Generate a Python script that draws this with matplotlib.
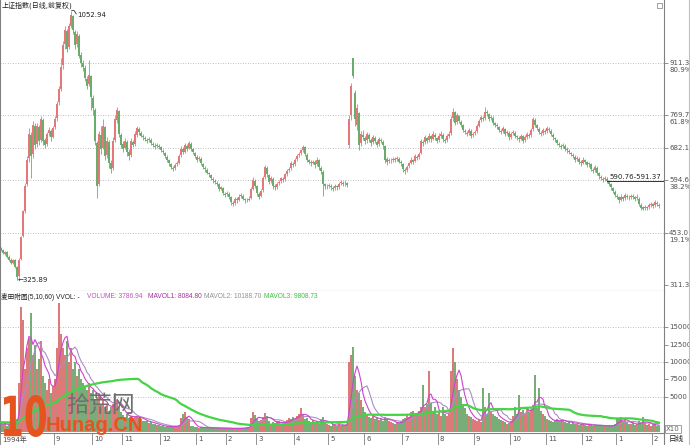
import numpy as np
import pandas as pd
import matplotlib
matplotlib.use("Agg")
import matplotlib.pyplot as plt
from matplotlib.textpath import TextPath
from matplotlib.patches import PathPatch, Rectangle
from matplotlib.font_manager import FontProperties
from matplotlib.transforms import Affine2D, blended_transform_factory
from matplotlib.lines import Line2D

plt.rcParams['font.family'] = ['DejaVu Sans', 'Noto Sans CJK SC']

# ---------------- data ----------------
opens = [
    410, 405, 396, 400, 388, 380, 370, 378, 360,
    335, 382, 445, 512, 585,
    655, 718, 665, 742,
    692, 738, 702, 758, 702, 692, 722, 728, 712, 738,
    762, 805, 842,
    905, 962, 998,
    955, 1012, 1038,
    995, 962,
    985, 932, 912,
    898, 868,
    855, 875,
    818, 785, 695,
    585, 718, 682, 738, 662,
    698, 642,
    628, 702, 758,
    782, 718, 692, 682, 698, 672, 662, 698,
    692, 718, 733,
    723, 713, 708, 703, 702, 703, 693, 688, 687, 688, 683, 673,
    668, 658, 648, 638, 628, 627, 637,
    642, 662, 678, 672, 688, 682, 693,
    678, 668, 658, 652, 653, 638, 628, 623, 613, 608, 598,
    593, 588, 583, 572, 573, 558, 557, 558,
    548, 533,
    532, 543, 542, 552, 553, 543, 542, 542,
    547, 572, 593,
    578, 558, 552,
    567, 602, 628,
    608, 592, 598, 578, 577, 587, 592, 598,
    597, 612, 622, 627, 638, 637, 652, 662, 667, 677,
    683, 663, 648, 643, 642, 643, 637, 648,
    628, 618, 583,
    578, 580, 580, 573, 574, 578, 577, 587, 588, 586,
    586,
    690, 770, 925, 830, 745, 775, 695,
    718, 708, 702, 718, 703, 697, 708, 698, 692, 703, 698,
    688, 652,
    647, 648, 650, 652, 651, 653, 643,
    638, 623, 622,
    632, 642, 648, 647, 658, 657,
    668, 698, 697, 708, 702, 713, 707, 718, 708, 702, 713, 718, 703, 702, 713,
    722, 762, 778,
    752, 768, 753,
    743, 728, 723, 722, 728, 717, 722,
    727, 742, 757, 763, 762, 778,
    773, 762, 763, 748, 743,
    738, 728, 727, 733, 722, 723, 712, 722, 723, 713, 708, 707, 713, 702, 712, 718,
    717, 732, 758,
    743, 733, 723, 722, 728, 727, 733, 728,
    718, 708, 703, 693, 688, 687, 688, 678, 673,
    668, 663, 658, 652, 653, 643, 642, 648, 643, 637, 638, 623, 622, 628,
    613, 603, 598, 597, 598,
    590, 583, 573, 563, 553,
    548, 542, 548, 547, 553, 549, 549, 552, 548, 547,
    545, 528, 522, 519, 522,
    521, 528, 530, 527, 533, 528]

highs = [
    414, 408, 404, 403, 392, 384, 382, 381, 363,
    385, 445, 515, 588, 660,
    735, 725, 755, 750,
    750, 745, 768, 762, 708, 725, 738, 732, 742, 768,
    808, 850, 925,
    970, 1010, 1003,
    1020, 1052.94, 1042,
    1000, 998,
    990, 940, 920,
    905, 875,
    919, 880,
    825, 790, 700,
    728, 740, 760, 742, 712,
    702, 648,
    710, 770, 792,
    785, 722, 700, 708, 702, 678, 708, 704,
    728, 740, 738,
    728, 720, 714, 708, 710, 708, 698, 694, 696, 693, 686, 678,
    672, 662, 652, 642, 632, 640, 646,
    665, 686, 684, 696, 693, 700, 698,
    682, 672, 662, 660, 657, 642, 633, 627, 618, 612, 603,
    598, 593, 587, 580, 577, 563, 566, 562,
    551, 538,
    550, 548, 556, 560, 557, 547, 546, 552,
    576, 603, 598,
    582, 562, 570,
    606, 636, 632,
    612, 605, 602, 583, 590, 596, 604, 603,
    615, 625, 631, 646, 643, 655, 666, 671, 680, 690,
    687, 668, 653, 648, 650, 648, 656, 652,
    632, 622, 588,
    584, 588, 585, 579, 584, 582, 590, 595, 593, 594,
    590,
    771, 857, 926, 838, 800, 780, 728,
    730, 715, 726, 722, 708, 716, 713, 702, 710, 708, 702,
    690, 656,
    655, 654, 657, 656, 660, 657, 648,
    641, 627, 636,
    645, 656, 653, 666, 663, 670,
    706, 704, 716, 712, 722, 718, 727, 723, 712, 721, 727, 722, 708, 720, 728,
    768, 789, 782,
    776, 772, 758,
    747, 733, 728, 736, 732, 726, 731,
    746, 760, 771, 768, 792, 784,
    777, 770, 767, 752, 748,
    742, 733, 740, 736, 730, 727, 726, 730, 727, 718, 713, 720, 717, 716, 726, 723,
    736, 766, 762,
    747, 738, 728, 736, 733, 740, 738, 732,
    722, 712, 707, 698, 693, 695, 692, 683, 678,
    672, 668, 662, 660, 657, 648, 656, 653, 647, 645, 642, 628, 636, 632,
    617, 608, 602, 605, 603,
    594, 587, 577, 567, 558,
    552, 556, 553, 561, 558, 554, 558, 557, 552, 556,
    548, 532, 526, 527, 526,
    534, 536, 534, 541, 537, 532]

lows = [
    402, 395, 393, 385, 377, 369, 367, 357, 325.89,
    332, 378, 440, 505, 578,
    645, 600, 655, 680,
    685, 690, 698, 690, 682, 688, 715, 700, 708, 732,
    755, 798, 835,
    895, 950, 940,
    948, 1005, 990,
    950, 955,
    925, 900, 890,
    862, 840,
    850, 785,
    770, 690, 546,
    580, 665, 678, 650, 655,
    628, 615,
    622, 698, 750,
    712, 682, 672, 678, 660, 650, 658, 684,
    688, 712, 718,
    710, 704, 700, 694, 697, 690, 684, 680, 682, 678, 670, 664,
    654, 645, 634, 624, 620, 622, 632,
    638, 658, 664, 668, 674, 678, 674,
    664, 655, 644, 646, 635, 624, 618, 610, 604, 594, 588,
    584, 578, 564, 567, 554, 550, 552, 543,
    528, 524,
    528, 534, 538, 547, 540, 534, 535, 537,
    543, 568, 574,
    553, 545, 548,
    562, 598, 604,
    584, 586, 572, 568, 572, 582, 588, 589,
    593, 607, 616, 622, 629, 632, 647, 656, 662, 672,
    660, 644, 639, 634, 637, 628, 632, 622,
    612, 552, 572,
    571, 574, 569, 566, 569, 569, 572, 582, 579, 580,
    576,
    682, 757, 870, 740, 730, 675, 688,
    702, 692, 696, 698, 686, 692, 694, 684, 688, 694, 680,
    642, 636,
    641, 642, 645, 644, 646, 640, 633,
    616, 612, 617,
    627, 638, 639, 643, 649, 652,
    664, 688, 692, 694, 697, 699, 702, 704, 694, 697, 708, 699, 694, 697, 708,
    718, 755, 743,
    747, 749, 738,
    724, 719, 713, 717, 709, 712, 716,
    722, 737, 752, 754, 758, 768,
    754, 756, 744, 739, 734,
    724, 719, 722, 714, 716, 704, 707, 717, 709, 704, 698, 702, 694, 697, 707, 709,
    712, 728, 739,
    729, 719, 713, 716, 719, 721, 724, 713,
    704, 698, 689, 684, 679, 681, 674, 669, 664,
    659, 654, 644, 646, 639, 634, 637, 639, 629, 631, 619, 614, 617, 609,
    599, 594, 589, 591, 587,
    579, 569, 559, 549, 544,
    534, 537, 539, 542, 544, 542, 543, 544, 539, 541,
    524, 514, 513, 514, 514,
    516, 523, 519, 522, 524, 519]

closes = [
    405, 398, 400, 388, 380, 372, 378, 360, 333,
    380, 440, 510, 580, 650,
    720, 660, 745, 690,
    740, 700, 760, 700, 690, 720, 730, 710, 735, 760,
    800, 840, 900,
    960, 1000, 950,
    1010, 1040, 1000,
    960, 990,
    930, 910, 900,
    870, 850,
    880, 820,
    790, 700, 580,
    720, 680, 740, 660, 700,
    640, 625,
    700, 760, 785,
    720, 690, 680, 700, 670, 660, 700, 690,
    720, 735, 725,
    715, 710, 705, 700, 705, 695, 690, 685, 690, 685, 675, 670,
    660, 650, 640, 630, 625, 635, 640,
    660, 680, 670, 690, 680, 695, 680,
    670, 660, 650, 655, 640, 630, 625, 615, 610, 600, 595,
    590, 585, 570, 575, 560, 555, 560, 550,
    535, 530,
    545, 540, 550, 555, 545, 540, 540, 545,
    570, 595, 580,
    560, 550, 565,
    600, 630, 610,
    590, 600, 580, 575, 585, 590, 600, 595,
    610, 620, 625, 640, 635, 650, 660, 665, 675, 685,
    665, 650, 645, 640, 645, 635, 650, 630,
    620, 585, 580,
    578, 582, 575, 572, 578, 575, 585, 590, 585, 588,
    582,
    760, 850, 875, 760, 790, 690, 720,
    710, 700, 720, 705, 695, 710, 700, 690, 705, 700, 690,
    650, 645,
    650, 648, 652, 650, 655, 645, 640,
    625, 620, 630,
    640, 650, 645, 660, 655, 665,
    700, 695, 710, 700, 715, 705, 720, 710, 700, 715, 720, 705, 700, 715, 720,
    760, 780, 750,
    770, 755, 745,
    730, 725, 720, 730, 715, 720, 725,
    740, 755, 765, 760, 780, 775,
    760, 765, 750, 745, 740,
    730, 725, 735, 720, 725, 710, 720, 725, 715, 710, 705, 715, 700, 710, 720, 715,
    730, 760, 745,
    735, 725, 720, 730, 725, 735, 730, 720,
    710, 705, 695, 690, 685, 690, 680, 675, 670,
    665, 660, 650, 655, 645, 640, 650, 645, 635, 640, 625, 620, 630, 615,
    605, 600, 595, 600, 592,
    585, 575, 565, 555, 550,
    540, 550, 545, 555, 550, 548, 552, 550, 545, 550,
    530, 520, 518, 522, 520,
    528, 530, 525, 535, 530, 525]

volumes = [
    1200, 1000, 1400, 900, 1100, 1300, 1000, 1500, 1800, 7000,
    17800, 16000, 9000, 12000, 13500, 17000, 11000, 12500, 9000, 10500, 13000,
    8000, 7000, 6000, 7500, 5500, 6500, 7500,
    12000, 18400, 14000, 12000, 11000, 13000, 10000, 12000, 9000, 10000, 8000, 9000, 7500,
    7000, 6500, 6000, 7000, 5500, 6000, 4500, 5000, 5500, 4000, 4500, 3500, 4000, 3000, 3500,
    4000, 5500, 4500, 3500, 2800, 2400, 2200, 2500, 2000, 2300, 2000, 2200, 2300, 2000,
    1800, 1600, 1500, 1500, 1300, 1400, 1200, 1100, 1000, 950, 900,
    800, 700, 850, 750, 700, 800, 900, 850, 1000,
    2000, 2500, 2800, 2200, 1800,
    900, 800, 700, 650, 600, 700, 650, 550, 600, 550, 650, 600, 550, 500, 550,
    600, 550, 500, 500, 550, 500, 450, 550, 500, 500, 550, 600, 550, 650, 700,
    2000, 2800, 2400, 1800, 1500, 1700, 2200, 2700, 2300,
    1500, 1200, 1400, 1300, 1600, 1500, 1100, 1200, 1400, 1700, 2000, 1800, 2100, 1900, 2300, 2600,
    3400, 2400, 1800, 2000, 1600, 1400, 1700, 1300, 1600, 1200, 1800, 2100, 1400, 1200, 1000, 900, 1100,
    1000, 900, 1100, 800, 900, 1000, 1200,
    10000, 11000, 12100, 8000, 6000, 5500, 4500, 3500, 2800, 2500, 2200, 2000, 2300, 1800, 2000, 1700, 1800, 1500,
    2200, 2000, 1500, 1400, 1300, 1200, 1400, 1300, 1500, 1800, 2000, 2500, 2200, 2800, 3000, 2500, 2700, 3000, 3500,
    6700, 3500, 4000, 8700, 4200, 3000, 3500, 2600, 2800, 2300, 3500, 2600, 2300, 2500,
    8700, 12000, 10000, 7500, 6000, 5000, 4000, 3400, 2600, 2300, 2100, 1900, 1700, 1500, 1700, 1400,
    6300, 3500, 2600, 5500, 3000, 2600, 2300, 2100, 1900, 1700, 1500, 1400, 1200, 1300, 1500,
    2300, 3500, 2600, 5300, 2900, 3200, 2600, 3500, 2900, 3200, 3800, 8100, 3400, 6300, 3000, 2600, 2300, 1900, 1700, 1500, 1400,
    1700, 1900, 1600, 1500, 1700, 1400, 1300, 1500, 1200, 1300, 1100, 1200, 1000, 1100, 1300, 1000,
    900, 1100, 1000, 900, 950, 850, 900, 1000, 800, 900, 850, 800, 900, 1000, 1100,
    2000, 1800, 2100, 1500, 1700, 1400,
    1200, 1100, 1300, 1000, 1100, 1500, 1200, 2100, 1300, 1000, 1200, 900, 1000, 1100, 900, 800]

mavol3_seed = 1400  # level of the 60-day line at the left edge

price_levels = [911.3, 769.7, 682.1, 594.6, 453.0, 311.3]
price_pcts = ["80.9%", "61.8%", "", "38.2%", "19.1%", ""]
price_grid = [911.3, 769.7, 682.1, 594.6, 453.0]
vol_ticks = [15000, 12500, 10000, 7500, 5000]
vol_grid = [15000, 10000, 5000]

month_start = [0, 27, 46, 61, 80, 98, 113, 128, 147, 164, 182, 201, 219, 237, 255, 273, 291, 308, 326]
month_labels = ['1994年', '9', '10', '11', '12', '1', '2', '3', '4', '5', '6',
                '7', '8', '9', '10', '11', '12', '1', '2']

# ---------------- figure ----------------
W, H = 690, 445
fig = plt.figure(figsize=(W / 100, H / 100), dpi=100)
fig.patch.set_facecolor('white')

def fx(x):
    return x / W

def fy(y):
    return 1 - y / H

n = min(len(opens), len(highs), len(lows), len(closes), len(volumes))
o = np.array(opens[:n], float)
hi = np.array(highs[:n], float)
lo = np.array(lows[:n], float)
c = np.array(closes[:n], float)
vol = np.array(volumes[:n], float)
idx = np.arange(n)

RED = '#e47878'
GREEN = '#6aad6a'
up = c >= o
cols = np.where(up, RED, GREEN)
VRED = '#dc7a7a'
VGREEN = '#78ad78'
vcols = np.where(up, VRED, VGREEN)

ax_p = fig.add_axes([0, fy(291), fx(664), 291 / H])
ax_v = fig.add_axes([0, fy(433), fx(664), (433 - 291) / H])

GRID = '#a8a8a8'
SP = '#808080'
LAB = '#505050'
SMALL = ['Liberation Sans', 'Noto Sans CJK SC']

# ---- price panel ----
for lv in price_grid:
    ax_p.axhline(lv, color=GRID, lw=0.6, ls=(0, (1, 2)), zorder=0)
ax_p.vlines(idx, lo, hi, colors=cols, lw=0.6, zorder=2)
ax_p.bar(idx, np.maximum(np.abs(c - o), 1.2), bottom=np.minimum(o, c),
         width=0.6, color=cols, lw=0, zorder=2)
ax_p.set_xlim(-0.5, 331.5)
ax_p.set_ylim(295.0, 1081.6)
ax_p.set_xticks([])
ax_p.yaxis.tick_right()
ax_p.set_yticks(price_levels)
ax_p.set_yticklabels([])
ax_p.tick_params(axis='y', length=3, width=0.6, color=SP, direction='out')
for s in ['left', 'right', 'bottom']:
    ax_p.spines[s].set_color(SP)
    ax_p.spines[s].set_linewidth(0.8)
ax_p.spines['top'].set_visible(False)

tr_p = blended_transform_factory(ax_p.transAxes, ax_p.transData)
for lv, pct in zip(price_levels, price_pcts):
    ax_p.text(1 + 5 / 664, lv, f'{lv:.1f}', transform=tr_p, ha='left', va='center',
              fontsize=5, color=LAB, clip_on=False)
    if pct:
        ax_p.text(1 + 5 / 664, lv - 7 * 2.703, pct, transform=tr_p, ha='left', va='center',
                  fontsize=5, color=LAB, clip_on=False)

# annotations
i_max = int(np.argmax(hi))
i_min = int(np.argmin(lo))
ax_p.plot([i_max + 0.4, i_max + 1.6, i_max + 2.6], [hi[i_max], hi[i_max], hi[i_max] - 9],
          color='#333333', lw=0.6)
ax_p.text(i_max + 3.0, hi[i_max] - 11, f'{hi[i_max]:.2f}', fontsize=5, color='#222222',
          ha='left', va='center')
ax_p.text(i_min + 0.2, lo[i_min] - 1, f'\u2190{lo[i_min]:.2f}', fontsize=5, color='#222222',
          ha='left', va='center')
ax_p.plot([303, 331.5], [591.4, 591.4], color='#333333', lw=0.7, clip_on=False)
ax_p.text(304, 594, '590.76-591.37', fontsize=5, color='#222222', ha='left', va='bottom')

# ---- volume panel ----
for lv in vol_grid:
    ax_v.axhline(lv, color=GRID, lw=0.6, ls=(0, (1, 2)), zorder=0)
ax_v.bar(idx, vol, width=0.55, color=vcols, lw=0, zorder=2)
vs = pd.Series(vol)
ma5 = vs.rolling(5, min_periods=1).mean()
ma10 = vs.rolling(10, min_periods=1).mean()
ma60 = pd.Series(np.r_[np.full(59, mavol3_seed), vol]).rolling(60).mean().iloc[59:].values
ax_v.plot(idx, ma10, color='#a98fc0', lw=0.8, zorder=3)
ax_v.plot(idx, ma5, color='#cc44cc', lw=0.8, zorder=3)
ax_v.plot(idx, ma60, color='#44d444', lw=1.6, zorder=3)
ax_v.set_xlim(-0.5, 331.5)
ax_v.set_ylim(-143, 20143)
ax_v.yaxis.tick_right()
ax_v.set_yticks(vol_ticks)
ax_v.set_yticklabels([])
ax_v.tick_params(axis='y', length=3, width=0.6, color=SP, direction='out')
ax_v.set_xticks([m - 0.5 for m in month_start])
ax_v.set_xticklabels([])
ax_v.tick_params(axis='x', length=10, width=0.6, color=SP, direction='out')
for s in ['left', 'right', 'bottom']:
    ax_v.spines[s].set_color(SP)
    ax_v.spines[s].set_linewidth(0.8)
ax_v.spines['top'].set_visible(False)
tr_v = blended_transform_factory(ax_v.transAxes, ax_v.transData)
for t in vol_ticks:
    ax_v.text(1 + 5 / 664, t, f'{t}', transform=tr_v, ha='left', va='center',
              fontsize=5, color=LAB, clip_on=False)

for m, lab in zip(month_start, month_labels):
    fig.text(fx(2 * m + 2), fy(439), lab, fontsize=5, color=LAB, ha='left', va='center')

# ---- titles ----
fig.text(fx(2), fy(5), '上证指数(日线,前复权)', fontsize=5, color='#202020', ha='left', va='center')
fig.text(fx(1), fy(297), '麦田附图(5,10,60) VVOL: -', fontsize=4.8, color='#202020',
         ha='left', va='center', family=SMALL)
fig.text(fx(87), fy(297), 'VOLUME: 3786.94', fontsize=4.8, color='#c050c0', ha='left',
         va='center', family=SMALL)
fig.text(fx(148), fy(297), 'MAVOL1: 8084.80', fontsize=4.8, color='#a030a0', ha='left',
         va='center', family=SMALL)
fig.text(fx(204), fy(297), 'MAVOL2: 10188.70', fontsize=4.8, color='#909090', ha='left',
         va='center', family=SMALL)
fig.text(fx(264), fy(297), 'MAVOL3: 9808.73', fontsize=4.8, color='#3cc03c', ha='left',
         va='center', family=SMALL)

fig.text(fx(666), fy(429), 'X10', fontsize=5, color='#606060', ha='left', va='center',
         bbox=dict(boxstyle='square,pad=0.15', fc='white', ec='#909090', lw=0.6))
fig.text(fx(669), fy(439), '日线', fontsize=5.5, color='#202020', ha='left', va='center')

# frame pieces in the right column
fig.add_artist(Line2D([fx(664), fx(664)], [fy(433), fy(445)], color=SP, lw=0.8))
fig.add_artist(Line2D([fx(688.5), fx(688.5)], [fy(0), fy(445)], color='#c0c0c0', lw=0.8))
fig.add_artist(Rectangle((fx(657), fy(8)), 5 / W, 5 / H, fill=False, ec='#909090', lw=0.6))

# ---- watermark ----
fp = FontProperties(family='DejaVu Sans', weight='bold')
tp = TextPath((0, 0), '10', size=52, prop=fp)
bb = tp.get_extents()
sx = 42 / bb.width
sy = 42 / bb.height
trans = (Affine2D().translate(-bb.x0, -bb.y0).scale(sx, sy).translate(4, H - 437)
         .scale(1 / 100.0) + fig.dpi_scale_trans)
fig.add_artist(PathPatch(tp, transform=trans, fc='#e5531f', ec='none', zorder=5))
fig.text(fx(66), fy(405), '拾荒网', fontsize=16.5, color='#6e6e6e', ha='left', va='center',
         family=['Noto Sans CJK SC'], zorder=5)
fig.text(fx(46), fy(431), 'Hunag.CN', fontsize=14.5, color='#e5531f', ha='left', va='baseline',
         family=['Liberation Sans', 'DejaVu Sans'], fontweight='bold', zorder=5)

fig.savefig('out.png', dpi=100, facecolor='white')
